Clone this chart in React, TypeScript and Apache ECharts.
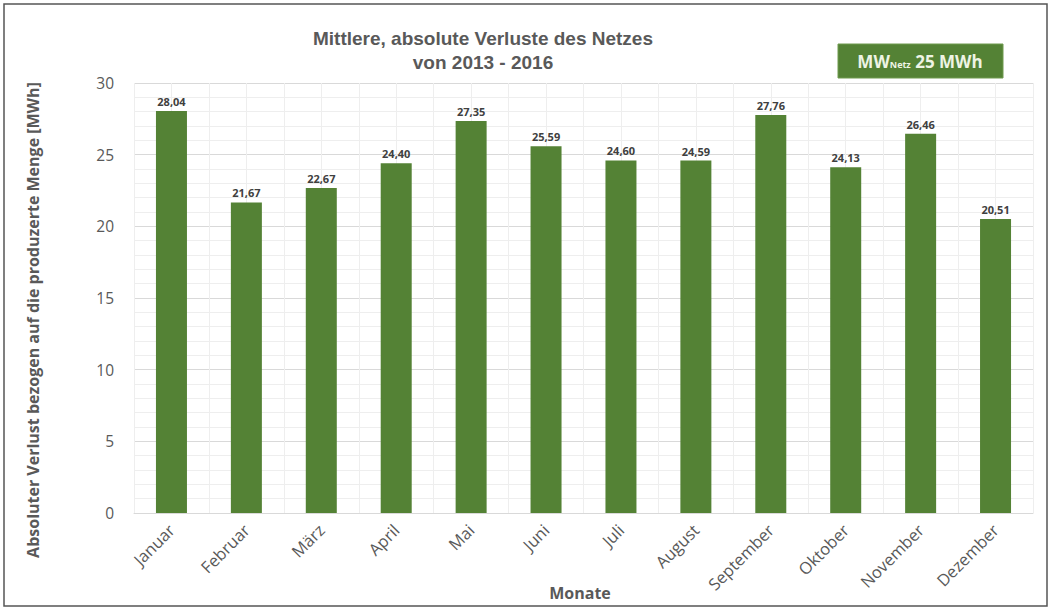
import React, { useEffect, useRef } from "react";
import * as echarts from "echarts";

const months = ["Januar", "Februar", "März", "April", "Mai", "Juni", "Juli", "August", "September", "Oktober", "November", "Dezember"];
const losses = [28.04, 21.67, 22.67, 24.40, 27.35, 25.59, 24.60, 24.59, 27.76, 24.13, 26.46, 20.51];
const titleLines = ["Mittlere, absolute Verluste des Netzes", "von 2013 - 2016"];
const yAxisTitle = "Absoluter Verlust bezogen auf die produzerte Menge [MWh]";
const xAxisTitle = "Monate";

export default function App() {
  const ref = useRef<HTMLDivElement>(null);
  useEffect(() => {
    document.body.style.margin = "0";
    const chart = echarts.init(ref.current!, null, { renderer: "svg" });
    const grey = "#595959";
    chart.setOption({
      animation: false,
      backgroundColor: "#ffffff",
      textStyle: { fontFamily: "'Open Sans', 'Liberation Sans', sans-serif" },
      title: {
        text: titleLines.join("\n"),
        left: 478,
        top: 21,
        textAlign: "center",
        textStyle: { fontSize: 19, fontWeight: "bold", color: grey, lineHeight: 24, fontFamily: "'Liberation Sans', sans-serif" },
      },
      grid: { left: 134, right: 19, top: 83, bottom: 98, outerBoundsMode: "none", containLabel: false },
      xAxis: [
        {
          type: "category",
          data: months,
          axisLine: { lineStyle: { color: "#d9d9d9" } },
          axisTick: { show: false },
          splitLine: { show: true, lineStyle: { color: "#d9d9d9" } },
          axisLabel: { rotate: 45, color: grey, fontSize: 16.5, margin: 14, interval: 0 },
        },
        {
          type: "value",
          min: 0,
          max: 24,
          interval: 1,
          show: true,
          position: "top",
          axisLine: { show: false },
          axisTick: { show: false },
          axisLabel: { show: false },
          splitLine: { show: true, lineStyle: { color: "#eeeeee" } },
        },
      ],
      yAxis: {
        type: "value",
        min: 0,
        max: 30,
        interval: 5,
        axisLine: { show: false },
        axisTick: { show: false },
        axisLabel: { color: grey, fontSize: 15.5, margin: 20 },
        splitLine: { show: true, lineStyle: { color: "#d9d9d9" } },
        minorTick: { show: false, splitNumber: 5 },
        minorSplitLine: { show: true, lineStyle: { color: "#eeeeee" } },
      },
      series: [
        {
          type: "bar",
          xAxisIndex: 0,
          data: losses,
          barWidth: 31,
          itemStyle: { color: "#548235" },
          label: {
            show: true,
            position: "top",
            distance: 4,
            color: "#404040",
            fontSize: 11,
            fontWeight: "bold",
            formatter: (p: any) => p.value.toFixed(2).replace(".", ","),
          },
          z: 3,
        },
      ],
      graphic: [
        {
          type: "text",
          x: 33,
          y: 320,
          rotation: Math.PI / 2,
          style: {
            text: yAxisTitle,
            align: "center",
            verticalAlign: "middle",
            fill: grey,
            fontSize: 16,
            fontWeight: "bold",
            fontFamily: "'Open Sans', sans-serif",
          },
          z: 100,
        },
        {
          type: "text",
          x: 580,
          y: 593,
          style: {
            text: xAxisTitle,
            align: "center",
            verticalAlign: "middle",
            fill: grey,
            fontSize: 16,
            fontWeight: "bold",
            fontFamily: "'Open Sans', sans-serif",
          },
          z: 100,
        },
        {
          type: "rect",
          shape: { x: 4, y: 4, width: 1043, height: 602 },
          style: { fill: "none", stroke: "#555555", lineWidth: 1.5 },
          z: 100,
        },
        {
          type: "rect",
          shape: { x: 838, y: 44, width: 165, height: 34 },
          style: { fill: "#548235", stroke: "#6f9a4e", lineWidth: 1 },
          z: 100,
        },
        {
          type: "text",
          x: 920,
          y: 61,
          style: {
            text: "{a|MW}{s|Netz}{a| 25 MWh}",
            align: "center",
            verticalAlign: "middle",
            rich: {
              a: { fontSize: 17, fontWeight: "bold", fill: "#eef4e4", fontFamily: "'Open Sans', sans-serif" },
              s: { fontSize: 9, fontWeight: "bold", fill: "#eef4e4", fontFamily: "'Open Sans', sans-serif", padding: [6, 0, 0, 0] },
            },
          },
          z: 101,
        },
      ],
    });
    return () => chart.dispose();
  }, []);
  return <div ref={ref} style={{ width: 1052, height: 611 }} />;
}
